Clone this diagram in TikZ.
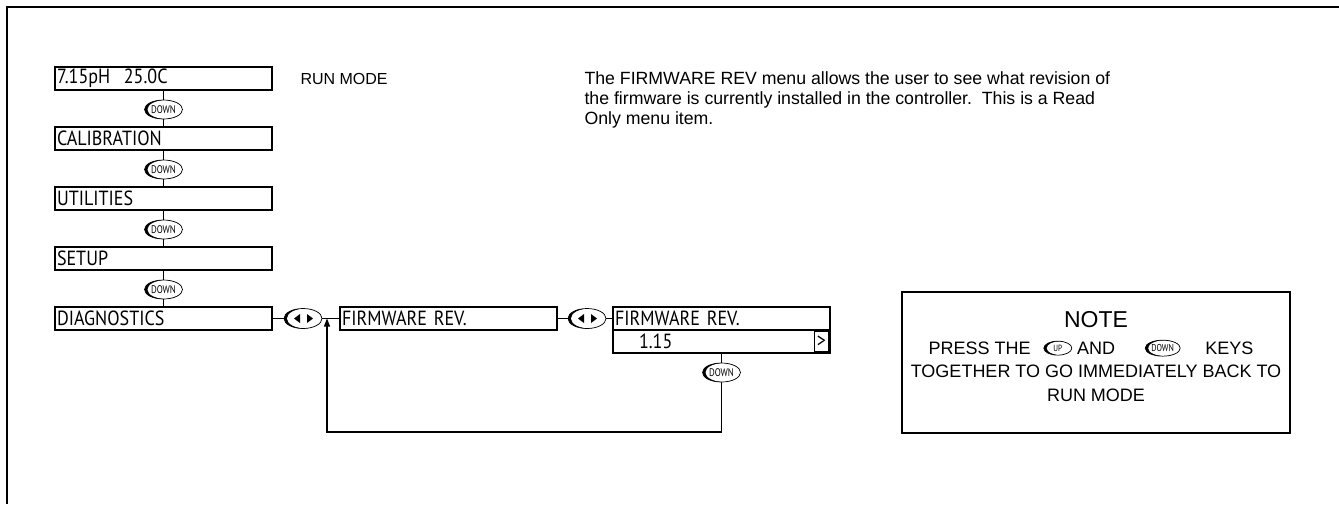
\documentclass[tikz,border=0pt]{standalone}
\usepackage{fontspec}
\setmainfont{Liberation Sans}
\newfontfamily\lcdfont[FakeStretch=0.88]{PT Sans}
\newfontfamily\keyfont[FakeStretch=0.8]{PT Sans}
\usetikzlibrary{
  arrows.meta,
  positioning,
  shapes.geometric
}

\begin{document}
\begin{tikzpicture}[
            x=1pt, y=-1pt,
            font=\fontsize{16}{19}\selectfont,
            menubox/.style={rectangle, draw=black, line width=1.3pt, outer sep=0pt, minimum width=217pt, minimum height=23pt, text width=213pt, inner xsep=2pt, inner ysep=0pt, align=left, font=\lcdfont\fontsize{20.5}{20.5}\selectfont},
            key/.style 2 args={ellipse, draw=black, line width=0.7pt, outer sep=0pt, inner sep=0pt, minimum width=#1, minimum height=#2,
              path picture={
                \fill[black] (path picture bounding box.south west) rectangle (path picture bounding box.north east);
                \fill[white] ([xshift=3pt]path picture bounding box.center) ellipse ({#1/2} and {#2/2});}},
            downkey/.style={key={38pt}{19pt}, font=\keyfont\fontsize{11}{11}\selectfont},
            lrkey/.style={ellipse, draw=black, line width=0.7pt, outer sep=0pt, inner sep=0pt, minimum width=38pt, minimum height=20pt,
              path picture={
                \fill[black] (path picture bounding box.south west) rectangle (path picture bounding box.north east);
                \fill[white] ([xshift=3pt]path picture bounding box.center) ellipse (19pt and 10pt);
                \fill[black] ([xshift=-9pt]path picture bounding box.center) -- ++(6pt,4.5pt) -- ++(0pt,-9pt) -- cycle;
                \fill[black] ([xshift=10pt]path picture bounding box.center) -- ++(-6pt,4.5pt) -- ++(0pt,-9pt) -- cycle;}},
            notetext/.style={inner sep=0pt, font=\fontsize{18}{18}\selectfont},
            link/.style={line width=1.2pt},
            arrow/.style={line width=1.2pt, -{Triangle[width=6pt,length=8pt]}}
        ]
        \useasboundingbox (0,0) rectangle (1339,504);
        \draw[line width=2.5pt] (1339,7) -- (7,7) -- (7,504);

        % Menu column
        \node[menubox] (run) at (163.5,78.5) {7.15pH\ \ 25.0C};
        \node[downkey, below=10pt of run] (d1) {DOWN};
        \node[menubox, below=8pt of d1] (cal) {CALIBRATION};
        \node[downkey, below=10pt of cal] (d2) {DOWN};
        \node[menubox, below=8pt of d2] (util) {UTILITIES};
        \node[downkey, below=10pt of util] (d3) {DOWN};
        \node[menubox, below=8pt of d3] (setup) {SETUP};
        \node[downkey, below=10pt of setup] (d4) {DOWN};
        \node[menubox, below=8pt of d4] (diag) {DIAGNOSTICS};

        \node[right=25pt of run] (runlbl) {RUN MODE};

        % Firmware row
        \node[lrkey, right=12pt of diag] (lr1) {};
        \node[menubox, right=18pt of lr1] (fw1) {FIRMWARE REV.};
        \node[lrkey, right=11pt of fw1] (lr2) {};
        \node[menubox, right=7pt of lr2] (fwname) {FIRMWARE REV.};
        \node[menubox, below=0pt of fwname] (fwval) {\hspace*{24pt}1.15};
        \node[draw=black, line width=1pt, minimum width=14pt, minimum height=20pt, inner sep=0pt, anchor=east, font=\lcdfont\fontsize{20.5}{20.5}\selectfont] (more) at ([xshift=-1pt]fwval.east) {>};
        \node[downkey, below=10pt of fwval] (d5) {DOWN};

        \coordinate (loopbot) at (0,432);
        \coordinate[right=5pt of lr1] (entry);

        % Text
        \node[anchor=north west, align=left, font=\fontsize{17.7}{20}\selectfont] (info) at (581,68)
          {The FIRMWARE REV menu allows the user to see what revision of\\
           the firmware is currently installed in the controller.\ \ This is a Read\\
           Only menu item.};

        % Note
        \node[draw=black, line width=1.3pt, minimum width=388pt, minimum height=141pt] (note) at (1096,362.5) {};
        \node[anchor=base, inner sep=0pt, font=\fontsize{23}{23}\selectfont] (ntitle) at ([yshift=-36pt]note.north) {NOTE};
        \node[notetext, anchor=base] (nand) at ([yshift=-63pt]note.north) {AND};
        \node[key={28pt}{14pt}, font=\keyfont\fontsize{9}{9}\selectfont, left=5pt of nand] (kup) {UP};
        \node[notetext, left=13pt of kup] (npress) {PRESS THE};
        \node[key={35pt}{16pt}, font=\keyfont\fontsize{10}{10}\selectfont, right=30pt of nand] (kdown) {DOWN};
        \node[notetext, right=25pt of kdown] (nkeys) {KEYS};
        \node[notetext, anchor=base] (nline3) at ([yshift=-86pt]note.north) {TOGETHER TO GO IMMEDIATELY BACK TO};
        \node[notetext, anchor=base] (nline4) at ([yshift=-110pt]note.north) {RUN MODE};

        % Connections
        \draw[link] (run) -- (d1) -- (cal) -- (d2) -- (util) -- (d3) -- (setup) -- (d4) -- (diag);
        \draw[link] (diag) -- (lr1) -- (fw1) -- (lr2) -- (fwname);
        \draw[link] (fwval) -- (d5);
        \draw[arrow] (d5) -- (d5 |- loopbot) -| (entry);

    \end{tikzpicture}
\end{document}
